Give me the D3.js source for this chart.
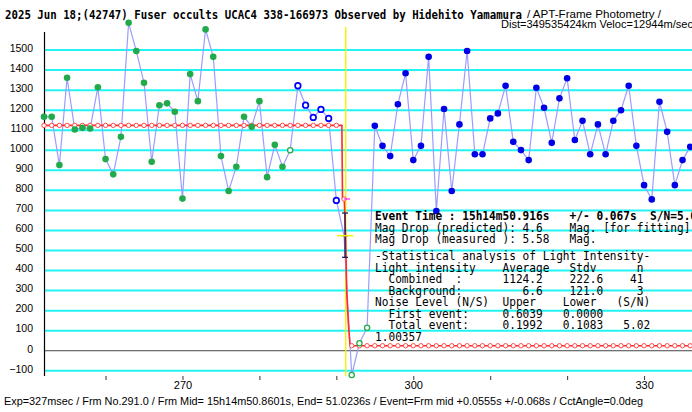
<!DOCTYPE html>
<html>
<head>
<meta charset="utf-8">
<script src="https://cdn.jsdelivr.net/npm/d3@7"></script>
<style>
  body { margin: 0; background: #fff; }
  svg { display: block; }
  .mono { font-family: "DejaVu Sans Mono", "Liberation Mono", monospace; white-space: pre; }
  .sans { font-family: "Liberation Sans", Arial, sans-serif; }
</style>
</head>
<body>
<svg width="692" height="412"></svg>
<script>
// Light curve, one value per frame starting at firstFrame
const firstFrame = 252;
const intensity = [
  1167, 1167, 926, 1362, 1104, 1112, 1109, 1314, 956, 880,
  1067, 1636, 1495, 1337, 943, 1225, 1234, 1192, 759, 1380,
  1245, 1603, 1466, 971, 797, 918, 1167, 1117, 1245, 866,
  1027, 918, 1000, 1322, 1225, 1164, 1204, 1159, 750, 574,
  -121, 37, 115, 1122, 1022, 971, 1230, 1384, 951, 1022,
  1466, 697, 1206, 797, 1129, 1495, 980, 980, 1159, 1184,
  1322, 1042, 1001, 951, 1312, 1212, 1037, 1259, 1359, 1051,
  1147, 980, 1129, 980, 1147, 1200, 1322, 1022, 826, 755,
  1242, 1092, 826, 951, 1017
];
// marker kind runs: gf green filled, go green open, bo blue open, ev event point, bf blue filled
const markerRuns = [["gf", 32], ["go", 1], ["bo", 6], ["ev", 1], ["go", 3], ["bf", 42]];

// Fitted model (step with smoothed drop)
const modelUpper = 1124.2;
const modelLower = 25;
const modelDropFrame = 291;
const modelDropValue = 757;
const modelCurve = [
  [252, 1124.2], [290.72, 1124.2], [290.8, 760], [291.03, 757], [291.22, 552],
  [291.35, 288], [291.56, 138], [291.78, 25], [336.3, 25]
];

// Event time marker
const eventFrame = 291.22;
const eventErr = [290.1, 292.2];
const eventBar = { frame: 291.13, mid: 574, hi: 687, lo: 466 };

const yTicks = [-100, 0, 100, 200, 300, 400, 500, 600, 700, 800, 900, 1000, 1100, 1200, 1300, 1400, 1500];
const xTicks = [260, 270, 280, 290, 300, 310, 320, 330];
const xLabels = [270, 300, 330];

const titleBold = "2025 Jun 18;(42747) Fuser occults UCAC4 338-166973 Observed by Hidehito Yamamura";
const titleRest = "/ APT-Frame Photometry /";
const titleLine2 = "Dist=349535424km Veloc=12944m/sec";
const footer = "Exp=327msec / Frm No.291.0 / Frm Mid= 15h14m50.8601s,  End= 51.0236s / Event=Frm mid +0.0555s +/-0.068s / CctAngle=0.0deg";

const infoHead = [
  "Event Time : 15h14m50.916s   +/- 0.067s  S/N=5.02"
];
const infoMag = [
  "Mag Drop (predicted): 4.6    Mag. [for fitting]",
  "Mag Drop (measured ): 5.58   Mag."
];
const infoStats = [
  "-Statistical analysis of Light Intensity-",
  "Light intensity    Average   Stdv      n",
  "  Combined  :      1124.2    222.6    41",
  "  Background:         6.6    121.0     3",
  "Noise Level (N/S)  Upper    Lower   (S/N)",
  "  First event:     0.6039   0.0000",
  "  Total event:     0.1992   0.1083   5.02",
  "1.00357"
];

const svg = d3.select("svg");

const x = d3.scaleLinear().domain([252, 336.23]).range([44, 692]);
const y = d3.scaleLinear().domain([-126, 1610]).range([376, 28]);

// grid lines
svg.append("g")
  .selectAll("line")
  .data(yTicks.filter(d => d !== 0))
  .join("line")
  .attr("x1", 45).attr("x2", 692)
  .attr("y1", d => y(d)).attr("y2", d => y(d))
  .attr("stroke", "#22f4f4")
  .attr("stroke-width", 2);

// zero line
svg.append("line")
  .attr("x1", 44).attr("x2", 692)
  .attr("y1", y(0)).attr("y2", y(0))
  .attr("stroke", "#444").attr("stroke-width", 1);

// left axis line
svg.append("line")
  .attr("x1", 44.5).attr("x2", 44.5)
  .attr("y1", 32).attr("y2", 376)
  .attr("stroke", "#000").attr("stroke-width", 1.2);

// y labels
const yAxis = svg.append("g")
  .attr("transform", "translate(44,0)")
  .call(d3.axisLeft(y).tickValues(yTicks).tickSize(0).tickPadding(11).tickFormat(d3.format("d")));
yAxis.select(".domain").remove();
yAxis.selectAll("text")
  .attr("dy", "0.12em")
  .attr("class", "sans")
  .style("font-size", "10.5px")
  .attr("fill", "#000");

// x axis ticks
const xAxis = svg.append("g")
  .attr("transform", "translate(0,376)")
  .call(d3.axisBottom(x).tickValues(xTicks).tickSize(4).tickPadding(1)
    .tickFormat(d => xLabels.includes(d) ? d : ""));
xAxis.select(".domain").remove();
xAxis.selectAll("line").attr("stroke", "#333");
xAxis.selectAll("text")
  .attr("class", "sans")
  .style("font-size", "11px")
  .attr("fill", "#000");

// data rows
const kinds = markerRuns.flatMap(([k, n]) => Array(n).fill(k));
const points = intensity.map((v, i) => ({ frame: firstFrame + i, value: v, kind: kinds[i] }));

// yellow event line
svg.append("line")
  .attr("x1", x(eventFrame)).attr("x2", x(eventFrame))
  .attr("y1", 27).attr("y2", 376)
  .attr("stroke", "#f4f400").attr("stroke-width", 1.4);

// light curve line
svg.append("path")
  .datum(points)
  .attr("fill", "none")
  .attr("stroke", "#9c9cff")
  .attr("stroke-width", 1.2)
  .attr("d", d3.line().x(d => x(d.frame)).y(d => y(d.value)));

// model line
svg.append("path")
  .datum(modelCurve)
  .attr("fill", "none")
  .attr("stroke", "#ff2a2a")
  .attr("stroke-width", 1.6)
  .attr("d", d3.line().x(d => x(d[0])).y(d => y(d[1])));

// model circles per frame
const modelPts = points.map(p => ({
  frame: p.frame,
  value: p.frame < modelDropFrame ? modelUpper : (p.frame === modelDropFrame ? modelDropValue : modelLower)
}));
svg.append("g")
  .selectAll("circle")
  .data(modelPts)
  .join("circle")
  .attr("cx", d => x(d.frame))
  .attr("cy", d => y(d.value))
  .attr("r", 2.2)
  .attr("fill", "#fff")
  .attr("stroke", "#ff4a4a")
  .attr("stroke-width", 1);

// magenta tick on the drop
svg.append("line")
  .attr("x1", x(modelDropFrame)).attr("x2", x(modelDropFrame + 0.8))
  .attr("y1", y(modelDropValue)).attr("y2", y(modelDropValue))
  .attr("stroke", "#ff00ff").attr("stroke-width", 1);

// event bar
const eb = svg.append("g").attr("stroke", "#20205a").attr("stroke-width", 1.3);
eb.append("line")
  .attr("x1", x(eventBar.frame)).attr("x2", x(eventBar.frame))
  .attr("y1", y(eventBar.hi)).attr("y2", y(eventBar.lo));
[eventBar.hi, eventBar.mid, eventBar.lo].forEach(v => {
  eb.append("line")
    .attr("x1", x(eventBar.frame) - 3).attr("x2", x(eventBar.frame) + 3)
    .attr("y1", y(v)).attr("y2", y(v));
});
svg.append("line")
  .attr("x1", x(eventErr[0])).attr("x2", x(eventErr[1]))
  .attr("y1", y(eventBar.mid)).attr("y2", y(eventBar.mid))
  .attr("stroke", "#f4f400").attr("stroke-width", 1.5);

// markers
const filled = points.filter(p => p.kind === "gf" || p.kind === "bf");
svg.append("g")
  .selectAll("circle")
  .data(filled)
  .join("circle")
  .attr("cx", d => x(d.frame))
  .attr("cy", d => y(d.value))
  .attr("r", 3.3)
  .attr("fill", d => d.kind === "gf" ? "#22aa4a" : "#0000e6");

const open = points.filter(p => p.kind === "go" || p.kind === "bo");
svg.append("g")
  .selectAll("circle")
  .data(open)
  .join("circle")
  .attr("cx", d => x(d.frame))
  .attr("cy", d => y(d.value))
  .attr("r", d => d.kind === "bo" ? 2.8 : 2.6)
  .attr("fill", "#fff")
  .attr("stroke", d => d.kind === "bo" ? "#0000ff" : "#22aa4a")
  .attr("stroke-width", d => d.kind === "bo" ? 1.7 : 1.3);

// info text
const charW = 6.71;
const info = svg.append("g");
function infoLine(t, yy, bold) {
  info.append("text")
    .attr("class", "mono")
    .attr("x", 375).attr("y", yy)
    .attr("textLength", t.length * charW)
    .attr("lengthAdjust", "spacingAndGlyphs")
    .style("font-size", "12.5px")
    .style("font-weight", bold ? "bold" : "normal")
    .text(t);
}
infoHead.forEach((t, i) => infoLine(t, 220 + i * 11.5, true));
infoMag.forEach((t, i) => infoLine(t, 231.5 + i * 11.5, false));
infoStats.forEach((t, i) => infoLine(t, 260 + i * 11.5, false));

// title
svg.append("text")
  .attr("class", "mono")
  .attr("x", 5).attr("y", 18.5)
  .attr("textLength", 517)
  .attr("lengthAdjust", "spacingAndGlyphs")
  .style("font-size", "11.5px")
  .style("font-weight", "bold")
  .text(titleBold);
svg.append("text")
  .attr("class", "sans")
  .attr("x", 527).attr("y", 18)
  .attr("textLength", 134)
  .attr("lengthAdjust", "spacingAndGlyphs")
  .style("font-size", "11.5px")
  .text(titleRest);
svg.append("text")
  .attr("class", "sans")
  .attr("x", 501).attr("y", 27.5)
  .attr("textLength", 192)
  .attr("lengthAdjust", "spacingAndGlyphs")
  .style("font-size", "11px")
  .text(titleLine2);

// footer
svg.append("text")
  .attr("class", "sans")
  .attr("x", 4).attr("y", 405)
  .attr("textLength", 639)
  .attr("lengthAdjust", "spacingAndGlyphs")
  .style("font-size", "11px")
  .text(footer);
</script>
</body>
</html>
